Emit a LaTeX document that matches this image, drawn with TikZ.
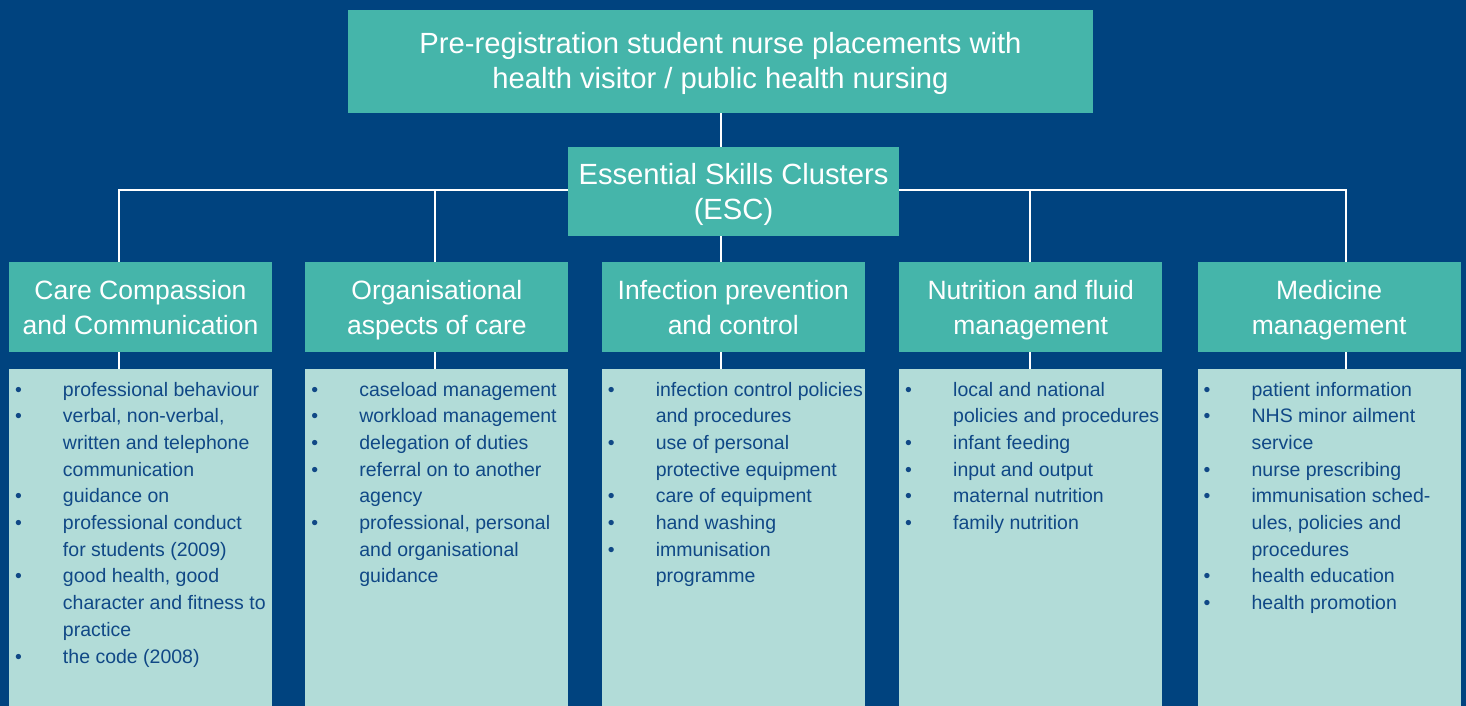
\documentclass[tikz,border=0pt]{standalone}
\usepackage{fontspec}
\setmainfont{Liberation Sans}
\usepackage{tikz}
\usetikzlibrary{positioning}
\definecolor{bgblue}{RGB}{0,67,127}
\definecolor{boxteal}{RGB}{69,181,170}
\definecolor{boxpale}{RGB}{178,220,216}
\definecolor{listink}{RGB}{16,72,134}
\newcommand{\bul}{\hspace*{6pt}\textbullet}
\newcommand{\skilllist}[1]{\parbox[c][337pt][t]{263pt}{\vspace*{8pt}\begin{tabular}{@{}p{54pt}@{}l@{}}#1\end{tabular}}}
\tikzstyle{head} = [fill=boxteal, text=white, align=center, inner sep=0pt, font=\fontsize{29.2}{35}\selectfont, text height=62.5pt, text depth=7.5pt]
\tikzstyle{cluster} = [fill=boxteal, text=white, align=center, inner sep=0pt, minimum width=263pt, minimum height=90pt, font=\fontsize{26.5}{35}\selectfont, text height=62.5pt, text depth=7.5pt]
\tikzstyle{skills} = [fill=boxpale, text=listink, inner sep=0pt, font=\fontsize{19.5}{26.7}\selectfont]
\tikzstyle{link} = [draw=white, line width=2pt]

\begin{document}
\begin{tikzpicture}[x=1pt, y=-1pt]
\useasboundingbox (0,0) rectangle (1466,706);
\fill [bgblue] (0,0) rectangle (1466,706);

\node [head, minimum width=745pt, minimum height=103pt] (title) at (720.5,61.5) {Pre-registration student nurse placements with\\health visitor / public health nursing};
\node [head, minimum width=331pt, minimum height=89pt] (esc) at (733.5,191.5) {Essential Skills Clusters\\(ESC)};

\node [cluster] (cat1) at (140.5,307) {Care Compassion\\and Communication};
\node [cluster] (cat2) [right=33pt of cat1] {Organisational\\aspects of care};
\node [cluster] (cat3) [right=33pt of cat2] {Infection prevention\\and control};
\node [cluster] (cat4) [right=34pt of cat3] {Nutrition and fluid\\management};
\node [cluster] (cat5) [right=35pt of cat4] {Medicine\\management};

\node [skills] (list1) [below=17pt of cat1] {\skilllist{%
\bul & professional behaviour\\
\bul & verbal, non-verbal,\\
 & written and telephone\\
 & communication\\
\bul & guidance on\\
\bul & professional conduct\\
 & for students (2009)\\
\bul & good health, good\\
 & character and fitness to\\
 & practice\\
\bul & the code (2008)}};
\node [skills] (list2) [below=17pt of cat2] {\skilllist{%
\bul & caseload management\\
\bul & workload management\\
\bul & delegation of duties\\
\bul & referral on to another\\
 & agency\\
\bul & professional, personal\\
 & and organisational\\
 & guidance}};
\node [skills] (list3) [below=17pt of cat3] {\skilllist{%
\bul & infection control policies\\
 & and procedures\\
\bul & use of personal\\
 & protective equipment\\
\bul & care of equipment\\
\bul & hand washing\\
\bul & immunisation\\
 & programme}};
\node [skills] (list4) [below=17pt of cat4] {\skilllist{%
\bul & local and national\\
 & policies and procedures\\
\bul & infant feeding\\
\bul & input and output\\
\bul & maternal nutrition\\
\bul & family nutrition}};
\node [skills] (list5) [below=17pt of cat5] {\skilllist{%
\bul & patient information\\
\bul & NHS minor ailment\\
 & service\\
\bul & nurse prescribing\\
\bul & immunisation sched-\\
 & ules, policies and\\
 & procedures\\
\bul & health education\\
\bul & health promotion}};

\coordinate (d1) at (119,190);
\coordinate (d2) at (435,190);
\coordinate (d3) at (721,190);
\coordinate (d4) at (1030,190);
\coordinate (d5) at (1346,190);

\draw [link] (title.south -| d3) -- (d3 |- esc.north);
\draw [link] (d3 |- esc.south) -- (d3 |- cat3.north);
\draw [link] (esc.west |- d1) -- (d1) -- (d1 |- cat1.north);
\draw [link] (esc.east |- d5) -- (d5) -- (d5 |- cat5.north);
\draw [link] (d2) -- (d2 |- cat2.north);
\draw [link] (d4) -- (d4 |- cat4.north);

\foreach \i in {1,...,5}
  \draw [link] (d\i |- cat\i.south) -- (d\i |- list\i.north);
\end{tikzpicture}
\end{document}
